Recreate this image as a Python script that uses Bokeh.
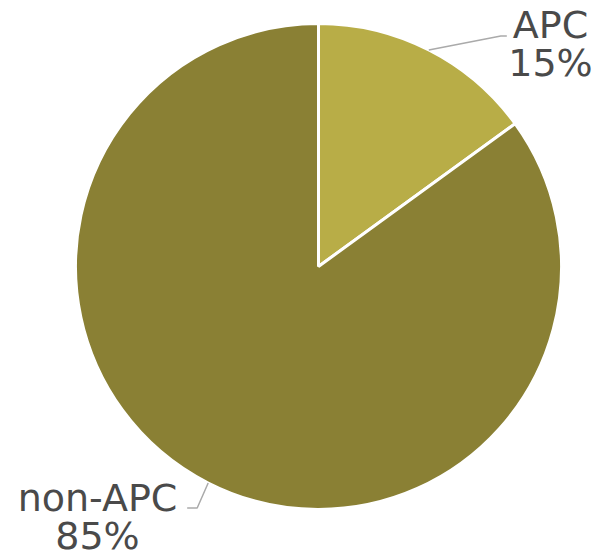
import math
from bokeh.plotting import figure
from bokeh.models import ColumnDataSource, Range1d
from bokeh.core.properties import value
from bokeh.embed import file_html
from bokeh.resources import INLINE

categories = ["APC", "non-APC"]
shares = [15, 85]
colors = ["#B8AD47", "#8A8034"]

W, H = 598, 557
cx, cy, R = 318, H - 266, 243

total = sum(shares)
starts, ends, mids = [], [], []
a = math.pi / 2
for s in shares:
    span = 2 * math.pi * s / total
    starts.append(a - span)
    ends.append(a)
    mids.append(a - span / 2)
    a -= span

p = figure(width=W, height=H, output_backend="svg", toolbar_location=None,
           x_range=Range1d(0, W), y_range=Range1d(0, H), min_border=0)
p.axis.visible = False
p.grid.visible = False
p.outline_line_color = None
p.background_fill_color = "white"

src = ColumnDataSource(dict(start=starts, end=ends, color=colors,
                            x=[cx] * len(shares), y=[cy] * len(shares)))
p.wedge(x="x", y="y", radius=R, start_angle="start", end_angle="end",
        fill_color="color", line_color="white", line_width=3, source=src)

# leader lines & labels
label_cfg = [
    dict(elbow=(72, 14), hend=6, tx=550, ty1=H - 24, ty2=H - 62),
    dict(elbow=(-11, -25), hend=-10, tx=97, ty1=H - 497, ty2=H - 535),
]
for i, cat in enumerate(categories):
    ex = cx + R * math.cos(mids[i])
    ey = cy + R * math.sin(mids[i])
    cfg = label_cfg[i]
    bx, by = ex + cfg["elbow"][0], ey + cfg["elbow"][1]
    p.line([ex, bx, bx + cfg["hend"]], [ey, by, by], line_color="#AAAAAA", line_width=1.5)
    p.text(x=[cfg["tx"]], y=[cfg["ty1"]], text=[cat], text_align="center",
           text_baseline="alphabetic", text_font=value("DejaVu Sans"),
           text_font_size="38px", text_color="#4A4A4A")
    p.text(x=[cfg["tx"]], y=[cfg["ty2"]], text=[f"{shares[i]}%"], text_align="center",
           text_baseline="alphabetic", text_font=value("DejaVu Sans"),
           text_font_size="38px", text_color="#4A4A4A")

open("out.html", "w").write(file_html(p, INLINE))
